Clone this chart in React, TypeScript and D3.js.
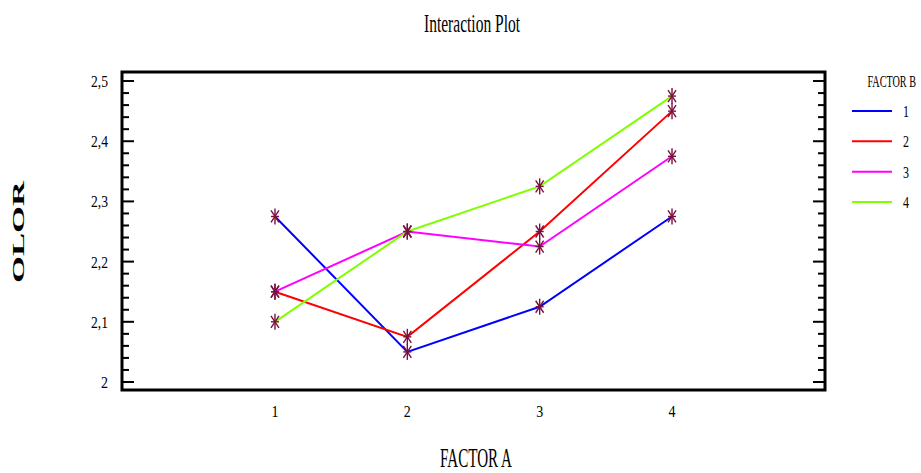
import { useEffect, useRef } from "react";
import * as d3 from "d3";

// Levels of factor A along the x axis
const factorA = [1, 2, 3, 4];
// Levels of factor B (one line each)
const factorB = ["1", "2", "3", "4"];
const seriesColors = ["#0000ff", "#ff0000", "#ff00ff", "#80ff00"];
// Cell means, one array per level of factor B
const meansB1 = [2.275, 2.05, 2.125, 2.275];
const meansB2 = [2.15, 2.075, 2.25, 2.45];
const meansB3 = [2.15, 2.25, 2.225, 2.375];
const meansB4 = [2.1, 2.25, 2.325, 2.475];
const yTicks = [2, 2.1, 2.2, 2.3, 2.4, 2.5];

const W = 921;
const H = 473;

export default function App() {
  const ref = useRef<SVGSVGElement>(null);

  useEffect(() => {
    if (!ref.current) return;
    const svg = d3.select(ref.current);
    svg.selectAll("*").remove();

    const left = 122, right = 825, top = 72, bottom = 390;
    const x = d3.scaleLinear().domain([-0.156, 5.156]).range([left, right]);
    const y = d3.scaleLinear().domain([1.9867, 2.515]).range([bottom, top]);
    const font = "'Liberation Serif', 'DejaVu Serif', serif";

    // title
    svg.append("text")
      .attr("x", 472).attr("y", 32)
      .attr("text-anchor", "middle")
      .attr("font-family", font).attr("font-size", 25)
      .attr("textLength", 96).attr("lengthAdjust", "spacingAndGlyphs")
      .text("Interaction Plot");

    // minor + major ticks on left and right
    const minor = d3.range(2.0, 2.5001, 0.02);
    minor.forEach((v) => {
      const major = Math.abs(v * 10 - Math.round(v * 10)) < 1e-6;
      const len = major ? 12 : 7;
      svg.append("line")
        .attr("x1", left).attr("x2", left + len)
        .attr("y1", y(v)).attr("y2", y(v))
        .attr("stroke", "#000").attr("stroke-width", 2);
      svg.append("line")
        .attr("x1", right).attr("x2", right - len)
        .attr("y1", y(v)).attr("y2", y(v))
        .attr("stroke", "#000").attr("stroke-width", 2);
    });

    // box
    svg.append("path")
      .attr("d", `M${left},${top}H${right}V${bottom}H${left}Z`)
      .attr("fill", "none").attr("stroke", "#000").attr("stroke-width", 3);

    // y tick labels
    yTicks.forEach((v) => {
      const lbl = v === 2 ? "2" : v.toFixed(1).replace(".", ",");
      svg.append("text")
        .attr("x", 108).attr("y", y(v) + 6)
        .attr("text-anchor", "end")
        .attr("font-family", font).attr("font-size", 17)
        .attr("textLength", lbl.length === 1 ? 7 : 17).attr("lengthAdjust", "spacingAndGlyphs")
        .text(lbl);
    });

    // x tick labels
    factorA.forEach((v) => {
      svg.append("text")
        .attr("x", x(v)).attr("y", 417)
        .attr("text-anchor", "middle")
        .attr("font-family", font).attr("font-size", 17)
        .attr("textLength", 7).attr("lengthAdjust", "spacingAndGlyphs")
        .text(String(v));
    });

    // axis titles
    svg.append("text")
      .attr("x", 476).attr("y", 467)
      .attr("text-anchor", "middle")
      .attr("font-family", font).attr("font-size", 27)
      .attr("textLength", 72).attr("lengthAdjust", "spacingAndGlyphs")
      .text("FACTOR A");

    svg.append("text")
      .attr("transform", "translate(24,232) rotate(-90)")
      .attr("text-anchor", "middle")
      .attr("font-family", font).attr("font-size", 16).attr("font-weight", "bold")
      .attr("textLength", 102).attr("lengthAdjust", "spacingAndGlyphs")
      .text("OLOR");

    // lines
    const allSeries = [meansB1, meansB2, meansB3, meansB4];
    const line = d3.line<number>().x((_, i) => x(factorA[i])).y((d) => y(d));
    allSeries.forEach((s, k) => {
      svg.append("path")
        .datum(s)
        .attr("d", line)
        .attr("fill", "none")
        .attr("stroke", seriesColors[k])
        .attr("stroke-width", 2);
    });

    // asterisk markers
    const mk = "#7a1040";
    allSeries.forEach((s) => {
      s.forEach((v, i) => {
        const cx = x(factorA[i]);
        const cy = y(v);
        const g = svg.append("g").attr("stroke", mk).attr("stroke-width", 1.4);
        g.append("line").attr("x1", cx).attr("x2", cx).attr("y1", cy - 8).attr("y2", cy + 8);
        g.append("line").attr("x1", cx - 4).attr("x2", cx + 4).attr("y1", cy - 6).attr("y2", cy + 6);
        g.append("line").attr("x1", cx - 4).attr("x2", cx + 4).attr("y1", cy + 6).attr("y2", cy - 6);
        g.append("line").attr("x1", cx - 4).attr("x2", cx + 4).attr("y1", cy).attr("y2", cy);
      });
    });

    // legend (title squeezed horizontally by a transform so its box stays inside the page)
    svg.append("text")
      .attr("transform", "translate(916,87) scale(0.6,1)")
      .attr("text-anchor", "end")
      .attr("font-family", font).attr("font-size", 17)
      .text("FACTOR B");
    const ly = d3.scalePoint<string>().domain(factorB).range([111, 202]);
    factorB.forEach((b, k) => {
      const yy = ly(b) ?? 0;
      svg.append("line")
        .attr("x1", 852).attr("x2", 892)
        .attr("y1", yy).attr("y2", yy)
        .attr("stroke", seriesColors[k]).attr("stroke-width", 2);
      svg.append("text")
        .attr("x", 906).attr("y", yy + 6)
        .attr("text-anchor", "middle")
        .attr("font-family", font).attr("font-size", 17)
        .attr("textLength", 6).attr("lengthAdjust", "spacingAndGlyphs")
        .text(b);
    });
  }, []);

  return (
    <svg
      ref={ref}
      width={W}
      height={H}
      style={{ position: "absolute", left: 0, top: 0, background: "#fff" }}
    />
  );
}
